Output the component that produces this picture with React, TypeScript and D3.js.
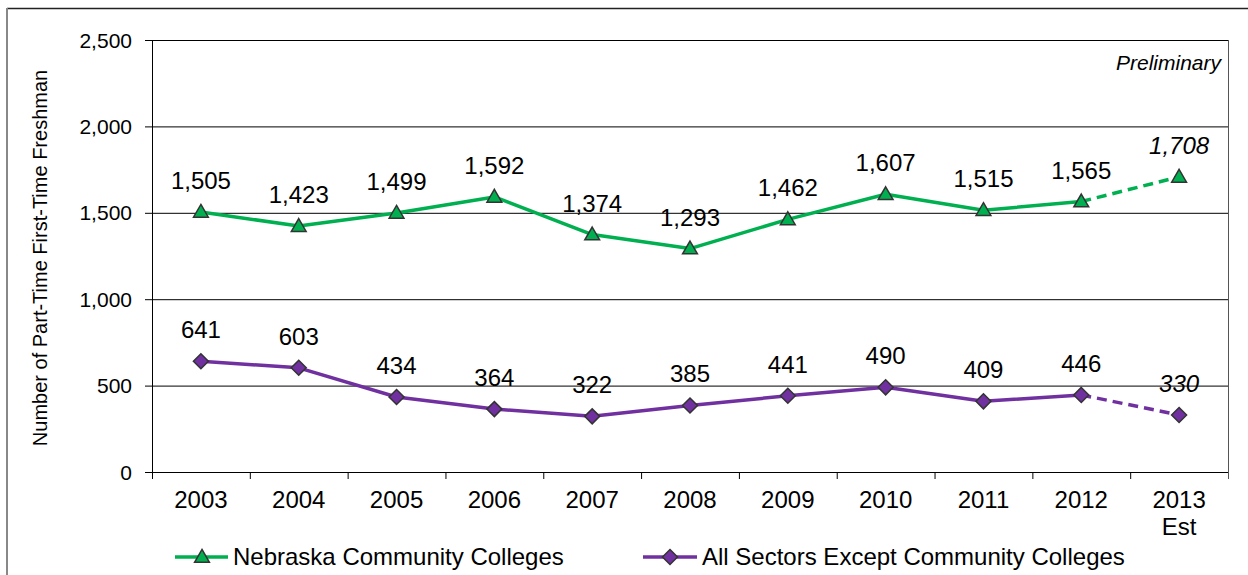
import React from "react";
import * as d3 from "d3";

const years = ["2003", "2004", "2005", "2006", "2007", "2008", "2009", "2010", "2011", "2012", "2013"];
const nebraska = [1505, 1423, 1499, 1592, 1374, 1293, 1462, 1607, 1515, 1565, 1708];
const allSectors = [641, 603, 434, 364, 322, 385, 441, 490, 409, 446, 330];
const yTicks = [0, 500, 1000, 1500, 2000, 2500];
const seriesNames = ["Nebraska Community Colleges", "All Sectors Except Community Colleges"];

const W = 1248, H = 575;
const left = 152, right = 1228, top = 40, bottom = 472;
const green = "#00B050";
const purple = "#7030A0";
const font = "'Liberation Sans', Arial, sans-serif";

export default function App() {
  const x = d3.scaleBand().domain(years).range([left, right]).paddingInner(0).paddingOuter(0);
  const y = d3.scaleLinear().domain([0, 2500]).range([bottom, top]);
  const cx = (i: number) => (x(years[i]) as number) + x.bandwidth() / 2;
  const fmt = d3.format(",");

  const lastIdx = years.length - 1;
  const solidPath = (vals: number[]) =>
    d3.line<number>().x((_, i) => cx(i)).y((d) => y(d))(vals.slice(0, lastIdx)) || "";
  const dashPath = (vals: number[]) =>
    d3.line<[number, number]>().x((d) => cx(d[0])).y((d) => y(d[1]))([
      [lastIdx - 1, vals[lastIdx - 1]],
      [lastIdx, vals[lastIdx]],
    ]) || "";

  const tri = d3.symbol().type(d3.symbolTriangle).size(95)();
  const dia = (cxp: number, cyp: number, r = 7.5) =>
    `M${cxp},${cyp - r}L${cxp + r},${cyp}L${cxp},${cyp + r}L${cxp - r},${cyp}Z`;

  const series = [
    { vals: nebraska, color: green, kind: "tri" },
    { vals: allSectors, color: purple, kind: "dia" },
  ];

  return (
    <svg
      width={W}
      height={H}
      style={{ position: "absolute", left: 0, top: 0, background: "#fff" }}
      fontFamily={font}
    >
      <rect x={0} y={0} width={W} height={H} fill="#fff" />
      {/* outer border */}
      <line x1={7} y1={8.5} x2={W} y2={8.5} stroke="#222" strokeWidth={1.5} />
      <line x1={7} y1={8} x2={7} y2={H} stroke="#888" strokeWidth={2} />

      {/* gridlines */}
      {yTicks.map((t) => (
        <line key={"g" + t} x1={left - 7} x2={right} y1={y(t) + 0.5} y2={y(t) + 0.5} stroke="#000" strokeWidth={1} />
      ))}
      {/* right border */}
      <line x1={right + 0.5} x2={right + 0.5} y1={top} y2={bottom + 7} stroke="#555" strokeWidth={1} />
      {/* y axis */}
      <line x1={left + 0.5} x2={left + 0.5} y1={top} y2={bottom + 7} stroke="#000" strokeWidth={1} />
      {/* x ticks */}
      {years.map((yr) => (
        <line key={"xt" + yr} x1={(x(yr) as number) + 0.5} x2={(x(yr) as number) + 0.5} y1={bottom} y2={bottom + 7} stroke="#000" />
      ))}
      {/* y tick labels */}
      {yTicks.map((t) => (
        <text key={"yl" + t} x={132} y={y(t) + 7.5} textAnchor="end" fontSize={21} fill="#000">
          {fmt(t)}
        </text>
      ))}
      {/* x labels */}
      {years.map((yr, i) => (
        <text key={"xl" + yr} x={cx(i)} y={508} textAnchor="middle" fontSize={24} fill="#000">
          {yr}
        </text>
      ))}
      <text x={cx(lastIdx)} y={535} textAnchor="middle" fontSize={24} fill="#000">
        Est
      </text>
      {/* y axis title */}
      <text transform={`translate(47,258) rotate(-90)`} textAnchor="middle" fontSize={20} fill="#000">
        Number of Part-Time First-Time Freshman
      </text>
      <text x={1221} y={70} textAnchor="end" fontSize={21} fontStyle="italic" fill="#000">
        Preliminary
      </text>

      {/* series */}
      {series.map((s, si) => (
        <g key={"s" + si}>
          <path d={solidPath(s.vals)} fill="none" stroke={s.color} strokeWidth={3.5} strokeLinejoin="round" />
          <path d={dashPath(s.vals)} fill="none" stroke={s.color} strokeWidth={3.5} strokeDasharray="10,6" />
          {s.vals.map((v, i) =>
            s.kind === "tri" ? (
              <path
                key={i}
                d={tri || ""}
                transform={`translate(${cx(i)},${y(v) + 1})`}
                fill={s.color}
                stroke="#333"
                strokeWidth={1.5}
              />
            ) : (
              <path key={i} d={dia(cx(i), y(v))} fill={s.color} stroke="#333" strokeWidth={1.5} />
            )
          )}
          {s.vals.map((v, i) => (
            <text
              key={"l" + i}
              x={cx(i)}
              y={y(v) - 23}
              textAnchor="middle"
              fontSize={24}
              fontStyle={i === lastIdx ? "italic" : "normal"}
              fill="#000"
            >
              {fmt(v)}
            </text>
          ))}
        </g>
      ))}

      {/* legend */}
      <line x1={175} x2={228} y1={557} y2={557} stroke={green} strokeWidth={3.5} />
      <path d={tri || ""} transform={`translate(202,558)`} fill={green} stroke="#333" strokeWidth={1.5} />
      <text x={233} y={565} fontSize={24} fill="#000">
        {seriesNames[0]}
      </text>
      <line x1={643} x2={697} y1={557} y2={557} stroke={purple} strokeWidth={3.5} />
      <path d={dia(670, 557)} fill={purple} stroke="#333" strokeWidth={1.5} />
      <text x={702} y={565} fontSize={24} fill="#000">
        {seriesNames[1]}
      </text>
    </svg>
  );
}
